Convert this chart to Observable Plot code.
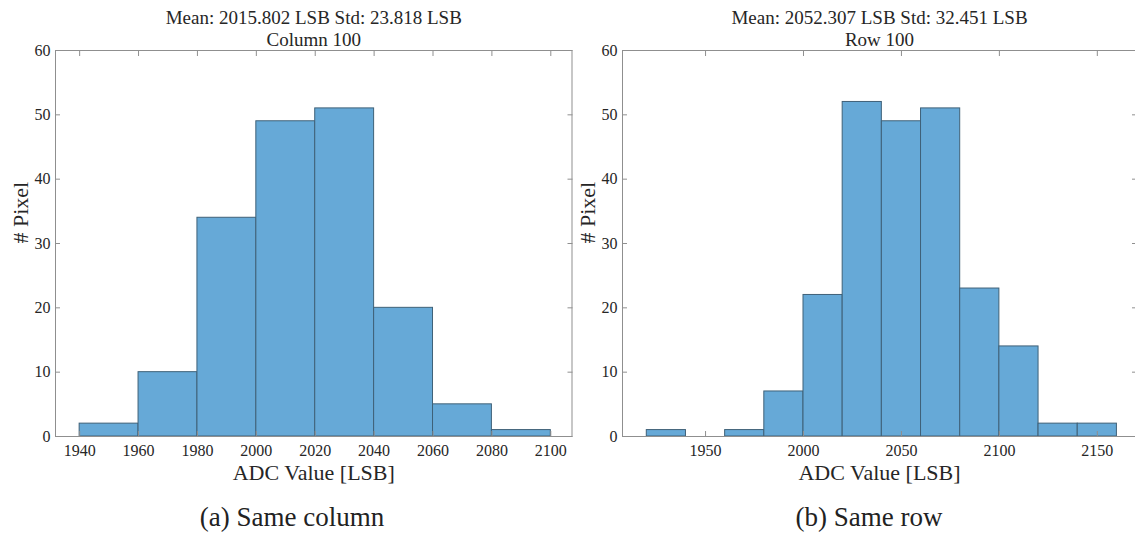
<!DOCTYPE html>
<html><head><meta charset="utf-8">
<script src="https://cdn.jsdelivr.net/npm/d3@7"></script>
<script src="https://cdn.jsdelivr.net/npm/@observablehq/plot@0.6"></script>
<style>
html,body{margin:0;padding:0;}
body{width:1135px;height:536px;overflow:hidden;background:#fff;position:relative;font-family:"Liberation Serif","Tinos","Times New Roman",serif;}
.panel{position:absolute;top:0;width:580px;height:490px;}
.panel svg{max-width:none !important;display:block;}
.panel svg text{font-family:"Liberation Serif","Tinos","Times New Roman",serif !important;}
.cap{position:absolute;color:#222;transform:translate(-50%,-50%);white-space:nowrap;line-height:1;font-size:27px;font-family:"Liberation Serif","Tinos","Times New Roman",serif;}
</style></head><body>
<div id="a" class="panel" style="left:0px"></div>
<div id="b" class="panel" style="left:567px"></div>
<div class="cap" style="left:292px;top:517px">(a) Same column</div>
<div class="cap" style="left:869px;top:517px">(b) Same row</div>
<script>
// Panel (a): same column
const colEdges = [1940, 1960, 1980, 2000, 2020, 2040, 2060, 2080, 2100];
const colCounts = [2, 10, 34, 49, 51, 20, 5, 1];
const colTicks = [1940, 1960, 1980, 2000, 2020, 2040, 2060, 2080, 2100];
const colTitle = ["Mean: 2015.802 LSB Std: 23.818 LSB", "Column 100"];

// Panel (b): same row
const rowEdges = [1920, 1940, 1960, 1980, 2000, 2020, 2040, 2060, 2080, 2100, 2120, 2140, 2160];
const rowCounts = [1, 0, 1, 7, 22, 52, 49, 51, 23, 14, 2, 2];
const rowTicks = [1950, 2000, 2050, 2100, 2150];
const rowTitle = ["Mean: 2052.307 LSB Std: 32.451 LSB", "Row 100"];

const yTicks = [0, 10, 20, 30, 40, 50, 60];
const xLabel = "ADC Value [LSB]";
const yLabel = "# Pixel";

const FONT = '"Liberation Serif", "Tinos", "Times New Roman", serif';
const GRID = "#8f8f8f";
const FILL = "#66a9d7";
const EDGE = "#3f6178";
const TEXT = "#262626";

function panel(el, edges, counts, domain, xticks, titles, width, marginRight) {
  const bins = counts.map((c, i) => ({x1: edges[i], x2: edges[i + 1], count: c}));
  const svg = Plot.plot({
    width, height: 490,
    marginLeft: 55, marginRight, marginTop: 50, marginBottom: 54,
    style: {fontFamily: FONT, fontSize: "16px", color: TEXT, background: "transparent", overflow: "visible", maxWidth: "none"},
    x: {domain, label: null},
    y: {domain: [0, 60], label: null},
    marks: [
      Plot.rectY(bins, {x1: "x1", x2: "x2", y: "count", fill: FILL, stroke: EDGE, strokeWidth: 1}),
      Plot.frame({stroke: GRID, strokeWidth: 1}),
      Plot.axisX({anchor: "bottom", ticks: xticks, tickSize: 0, tickPadding: 8, tickFormat: "d", fontSize: 16, fontFamily: FONT, fill: TEXT}),
      Plot.axisX({anchor: "bottom", ticks: xticks, tickSize: -5, text: null, stroke: GRID}),
      Plot.axisX({anchor: "top", ticks: xticks, tickSize: -5, text: null, stroke: GRID, label: null}),
      Plot.axisY({anchor: "left", ticks: yTicks, tickSize: 0, tickPadding: 5, fontSize: 16, fontFamily: FONT, fill: TEXT}),
      Plot.axisY({anchor: "left", ticks: yTicks, tickSize: -5, text: null, stroke: GRID}),
      Plot.axisY({anchor: "right", ticks: yTicks, tickSize: -5, text: null, stroke: GRID, label: null}),
      Plot.text([titles[0]], {frameAnchor: "top", dy: -40, fontSize: 19, fontFamily: FONT, fill: TEXT}),
      Plot.text([titles[1]], {frameAnchor: "top", dy: -18, fontSize: 19, fontFamily: FONT, fill: TEXT}),
      Plot.text([xLabel], {frameAnchor: "bottom", dy: 43, fontSize: 22, fontFamily: FONT, fill: TEXT}),
      Plot.text([yLabel], {frameAnchor: "left", dx: -35, rotate: -90, fontSize: 22, fontFamily: FONT, fill: TEXT})
    ]
  });
  document.getElementById(el).appendChild(svg);
}

panel("a", colEdges, colCounts, [1931.8, 2107.2], colTicks, colTitle, 576, 4.5);
panel("b", rowEdges, rowCounts, [1907.6, 2170], rowTicks, rowTitle, 571, 2);
</script>
</body></html>
